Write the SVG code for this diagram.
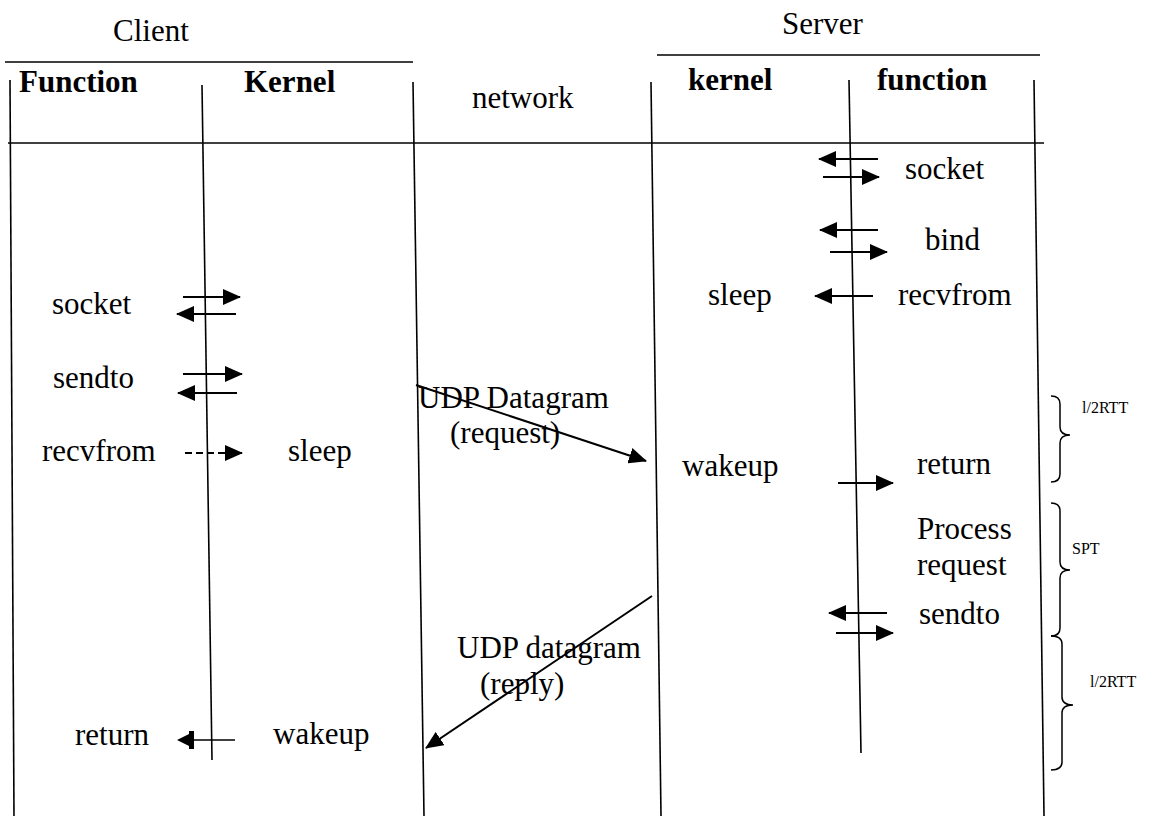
<svg xmlns="http://www.w3.org/2000/svg" width="1153" height="816" viewBox="0 0 1153 816">
  <style>
    .t { font-family: "Liberation Serif", "Times New Roman", serif; font-size: 31px; fill: #000; }
    .b { font-weight: bold; }
    .s { font-size: 16px; }
    .ln { stroke: #000; stroke-width: 1.6; fill: none; }
    .ar { stroke: #000; stroke-width: 2; fill: none; marker-end: url(#ah); }
    .dash { stroke-dasharray: 7 4; }
    .brace { stroke: #000; stroke-width: 1.5; fill: none; }
  </style>
  <defs>
    <marker id="ah" viewBox="0 0 18 16" refX="17" refY="8" markerWidth="18" markerHeight="16" markerUnits="userSpaceOnUse" orient="auto">
      <path d="M0,0 L18,8 L0,16 z" fill="#000"/>
    </marker>
  </defs>
  <rect width="1153" height="816" fill="#fff"/>

  <!-- table frame: headings, rules and lifelines -->
  <g id="frame">
    <text class="t" x="113" y="41">Client</text>
    <text class="t" x="782" y="34">Server</text>
    <line class="ln" x1="5" y1="62" x2="413" y2="62"/>
    <line class="ln" x1="657" y1="55" x2="1040" y2="55"/>
    <line class="ln" x1="8" y1="143" x2="1044" y2="143"/>
    <line class="ln" x1="10" y1="80" x2="14" y2="816"/>
    <line class="ln" x1="202" y1="85" x2="212" y2="760"/>
    <line class="ln" x1="413" y1="82" x2="424" y2="816"/>
    <line class="ln" x1="651" y1="82" x2="661" y2="816"/>
    <line class="ln" x1="849" y1="80" x2="861" y2="753"/>
    <line class="ln" x1="1034" y1="80" x2="1044" y2="816"/>
    <text class="t b" x="19" y="92">Function</text>
    <text class="t b" x="244" y="92">Kernel</text>
    <text class="t" x="472" y="108">network</text>
    <text class="t b" x="688" y="90">kernel</text>
    <text class="t b" x="877" y="90">function</text>
  </g>

  <!-- client side calls -->
  <g id="client-socket"><text class="t" x="52" y="314">socket</text></g>
  <g id="client-sendto"><text class="t" x="53" y="388">sendto</text></g>
  <g id="client-recvfrom"><text class="t" x="42" y="461">recvfrom</text></g>
  <g id="client-sleep"><text class="t" x="288" y="461">sleep</text></g>
  <g id="client-return"><text class="t" x="75" y="745">return</text></g>
  <g id="client-wakeup"><text class="t" x="273" y="744">wakeup</text></g>

  <!-- server side calls -->
  <g id="server-socket"><text class="t" x="905" y="179">socket</text></g>
  <g id="server-bind"><text class="t" x="925" y="250">bind</text></g>
  <g id="server-sleep"><text class="t" x="708" y="305">sleep</text></g>
  <g id="server-recvfrom"><text class="t" x="898" y="305">recvfrom</text></g>
  <g id="server-wakeup"><text class="t" x="682" y="476">wakeup</text></g>
  <g id="server-return"><text class="t" x="917" y="474">return</text></g>
  <g id="server-process"><text class="t" x="917" y="539">Process</text><text class="t" x="917" y="575">request</text></g>
  <g id="server-sendto"><text class="t" x="919" y="624">sendto</text></g>

  <!-- datagrams on the network -->
  <g id="udp-request"><text class="t" x="418" y="408">UDP Datagram</text><text class="t" x="450" y="443">(request)</text></g>
  <g id="udp-reply"><text class="t" x="457" y="658">UDP datagram</text><text class="t" x="480" y="694">(reply)</text></g>

  <!-- timing braces -->
  <g id="rtt-1">
    <path class="brace" d="M1051,396 Q1060,396 1060,404 L1060,427 Q1060,435 1070,435 Q1060,435 1060,443 L1060,474 Q1060,482 1051,482"/>
    <text class="t s" x="1082" y="413">l/2RTT</text>
  </g>
  <g id="spt">
    <path class="brace" d="M1051,503 Q1060,503 1060,511 L1060,562 Q1060,570 1070,570 Q1060,570 1060,578 L1060,628 Q1060,636 1051,636"/>
    <text class="t s" x="1072" y="554">SPT</text>
  </g>
  <g id="rtt-2">
    <path class="brace" d="M1051,636 Q1062,636 1062,644 L1062,697 Q1062,705 1073,705 Q1062,705 1062,713 L1062,762 Q1062,770 1051,770"/>
    <text class="t s" x="1090" y="687">l/2RTT</text>
  </g>

  <!-- connectors -->
  <g id="connectors">
    <line class="ar" x1="183" y1="297" x2="240" y2="297"/>
    <line class="ar" x1="236" y1="314" x2="177" y2="314"/>
    <line class="ar" x1="183" y1="374" x2="242" y2="374"/>
    <line class="ar" x1="237" y1="393" x2="178" y2="393"/>
    <line class="ar dash" x1="185" y1="453" x2="242" y2="453"/>
    <line class="ln" x1="235" y1="740" x2="190" y2="740" stroke-width="2"/>
    <path d="M177,740 L189,734 L189,746 z" fill="#000"/>
    <rect x="189" y="731" width="5" height="18" fill="#000"/>

    <line class="ar" x1="878" y1="159" x2="819" y2="159"/>
    <line class="ar" x1="823" y1="177" x2="879" y2="177"/>
    <line class="ar" x1="878" y1="230" x2="820" y2="230"/>
    <line class="ar" x1="830" y1="252" x2="887" y2="252"/>
    <line class="ar" x1="873" y1="296" x2="815" y2="296"/>
    <line class="ar" x1="838" y1="483" x2="893" y2="483"/>
    <line class="ar" x1="887" y1="613" x2="829" y2="613"/>
    <line class="ar" x1="836" y1="633" x2="893" y2="633"/>

    <line class="ar" x1="416" y1="385" x2="646" y2="461"/>
    <line class="ar" x1="652" y1="596" x2="426" y2="748"/>
  </g>
</svg>
